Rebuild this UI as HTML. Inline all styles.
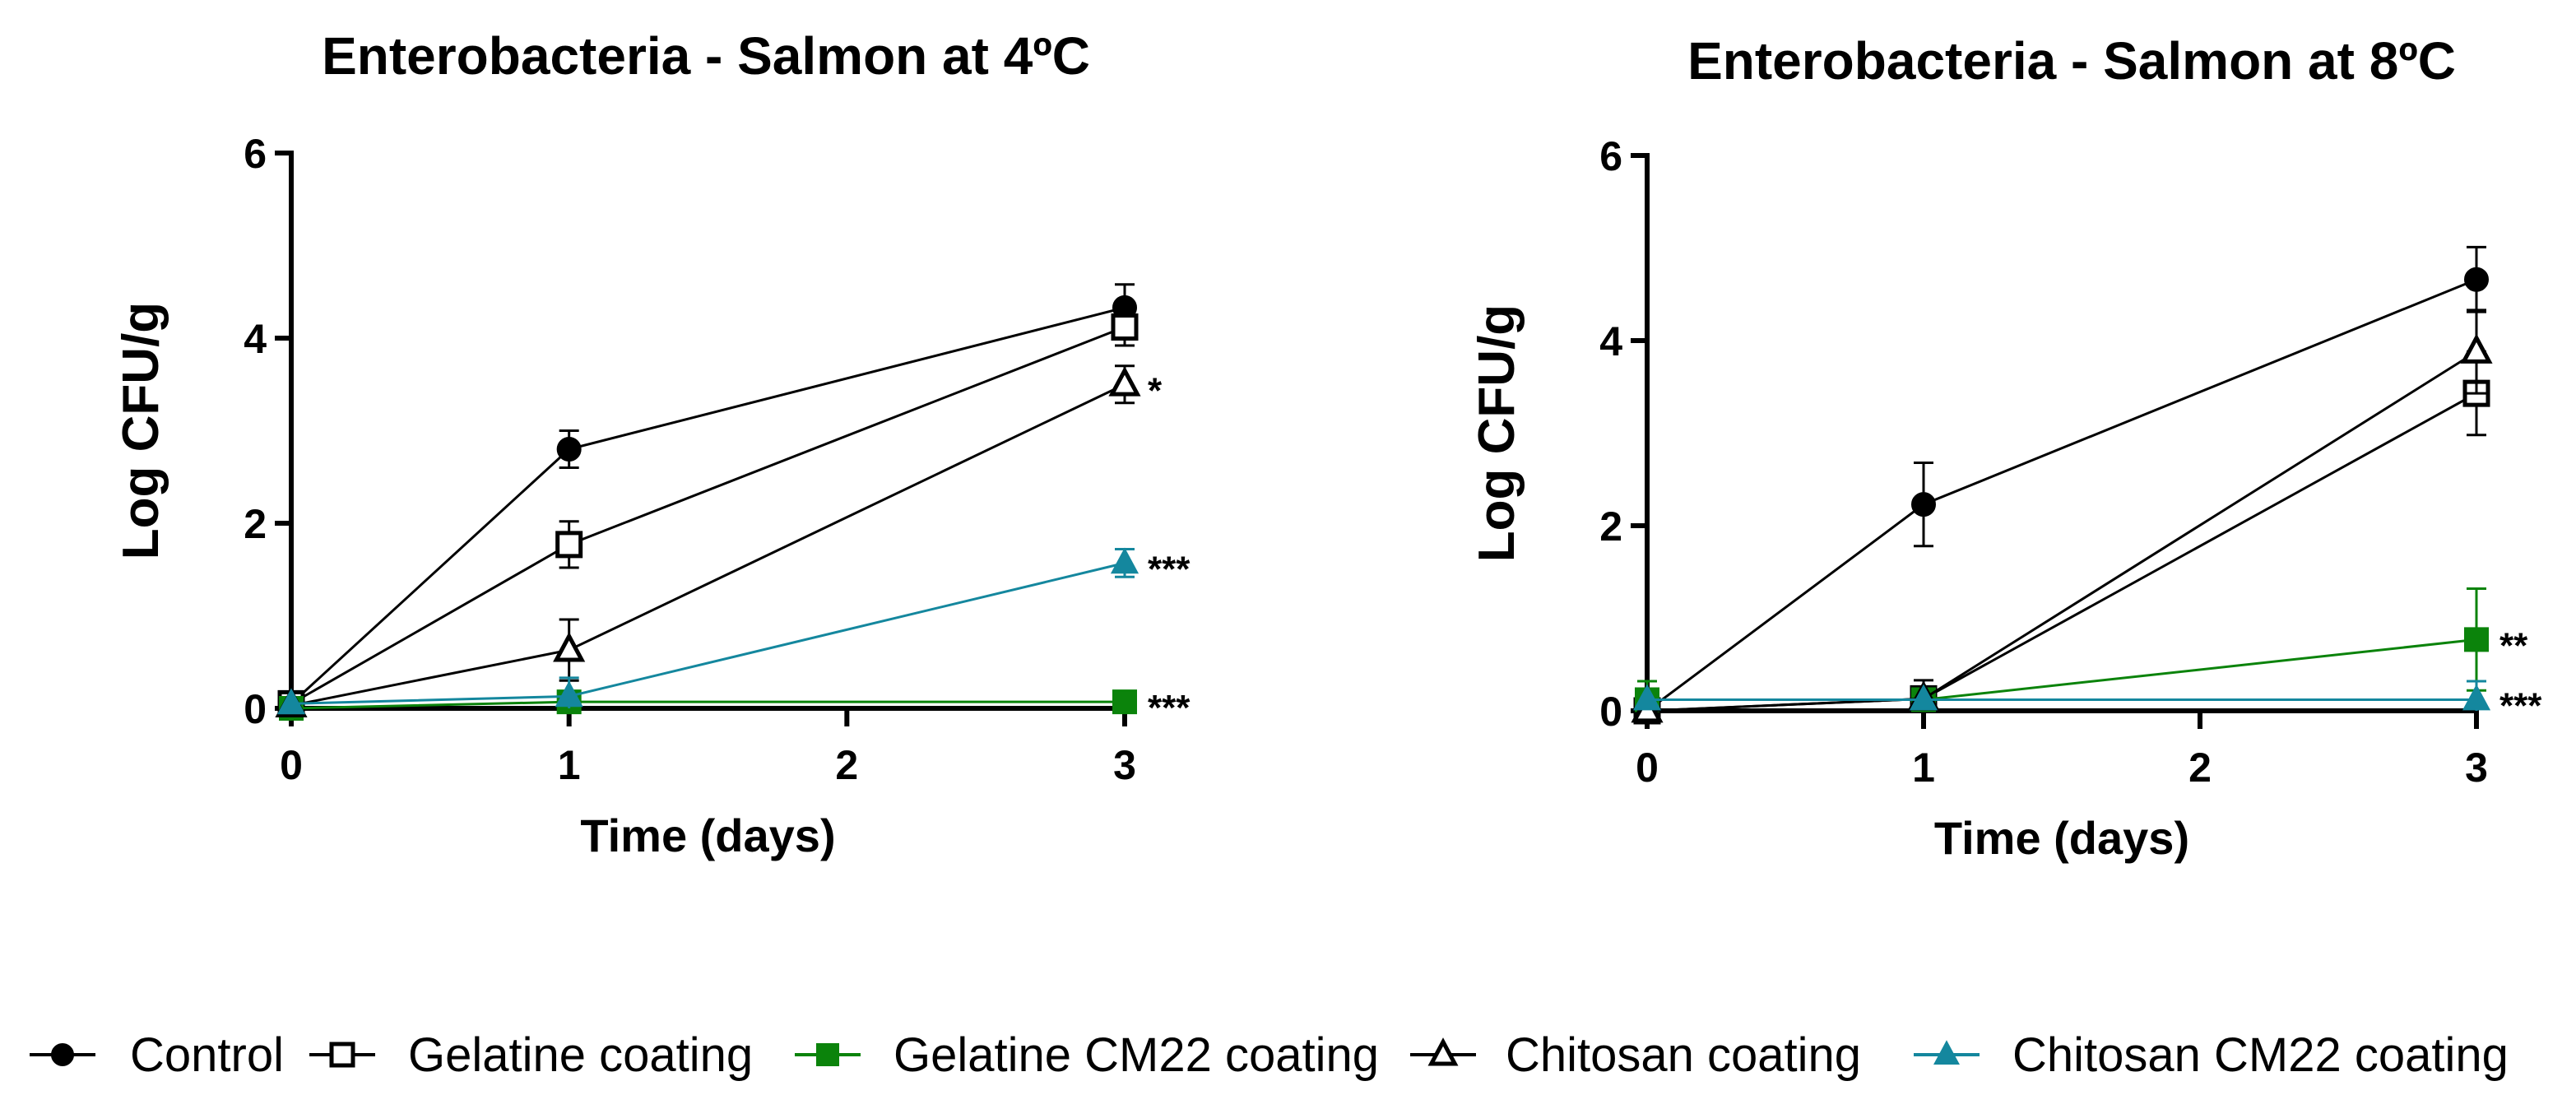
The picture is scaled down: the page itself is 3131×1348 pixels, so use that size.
<!DOCTYPE html>
<html><head><meta charset="utf-8"><style>
html,body{margin:0;padding:0;background:#fff;}
svg{display:block;font-family:"Liberation Sans",Arial,sans-serif;}
</style></head><body>
<svg id="fig" width="3131" height="1348" viewBox="0 0 3131 1348" xmlns="http://www.w3.org/2000/svg">
<rect width="3131" height="1348" fill="#fff"/>
<g id="legend"></g>
</svg>
<script>
const days = [0, 1, 3];
const xTicks = [0, 1, 2, 3];
const yTicks = [0, 2, 4, 6];
const seriesNames = ["Control", "Gelatine coating", "Gelatine CM22 coating", "Chitosan coating", "Chitosan CM22 coating"];
// Panel 1: 4ºC
const p1Control = [0.05, 2.8, 4.33];
const p1ControlErr = [0, 0.2, 0.25];
const p1Gelatine = [0.05, 1.77, 4.12];
const p1GelatineErr = [0, 0.25, 0.2];
const p1GelCM22 = [0.0, 0.07, 0.07];
const p1GelCM22Err = [0, 0, 0];
const p1Chitosan = [0.03, 0.63, 3.5];
const p1ChitosanErr = [0, 0.33, 0.2];
const p1ChiCM22 = [0.05, 0.13, 1.57];
const p1ChiCM22Err = [0, 0.2, 0.15];
const p1Stars = [["*", 3, 3.5], ["***", 3, 1.57], ["***", 3, 0.07]];
// Panel 2: 8ºC
const p2Control = [0.0, 2.23, 4.66];
const p2ControlErr = [0, 0.45, 0.35];
const p2Gelatine = [0.0, 0.13, 3.43];
const p2GelatineErr = [0, 0.2, 0.45];
const p2GelCM22 = [0.12, 0.12, 0.77];
const p2GelCM22Err = [0.2, 0, 0.55];
const p2Chitosan = [0.0, 0.13, 3.88];
const p2ChitosanErr = [0, 0, 0.45];
const p2ChiCM22 = [0.12, 0.12, 0.12];
const p2ChiCM22Err = [0, 0, 0.2];
const p2Stars = [["**", 3, 0.77], ["***", 3, 0.12]];

const NS = "http://www.w3.org/2000/svg";
const svg = document.getElementById("fig");
const GREEN = "#0b830b", TEAL = "#14879e";
const styles = [
  {c:"#000", m:"circle", fill:true},
  {c:"#000", m:"square", fill:false},
  {c:GREEN, m:"square", fill:true},
  {c:"#000", m:"tri", fill:false},
  {c:TEAL, m:"tri", fill:true}
];
function el(tag, attrs, parent){
  const e = document.createElementNS(NS, tag);
  for (const k in attrs) e.setAttribute(k, attrs[k]);
  (parent||svg).appendChild(e);
  return e;
}
function marker(g, st, x, y, s){
  let e;
  if (st.m === "circle") e = el("circle", {cx:x, cy:y, r:s}, g);
  else if (st.m === "square") e = el("rect", {x:x-s, y:y-s, width:2*s, height:2*s}, g);
  else e = el("polygon", {points:`${x},${y-s*1.2} ${x-s*1.1},${y+s*0.85} ${x+s*1.1},${y+s*0.85}`}, g);
  e.setAttribute("fill", st.fill ? st.c : "#fff");
  e.setAttribute("stroke", st.c);
  e.setAttribute("stroke-width", st.fill ? 2 : 5);
  return e;
}
function panel(cfg){
  const {x0, x3, y0, y6, title, tx, ty, ytx, series, errs, stars, id} = cfg;
  const sx = v => x0 + (x3 - x0) * v / 3;
  const sy = v => y0 - (y0 - y6) * v / 6;
  const g = el("g", {});
  
  
  const t = el("text", {x:tx, y:ty, "text-anchor":"middle", "font-size":64, "font-weight":"bold"}, g);
  t.textContent = title;
  
  
  const ax = el("g", {stroke:"#000", "stroke-width":6, fill:"none"}, g);
  
  
  el("line", {x1:x0, y1:y6-3, x2:x0, y2:y0+14}, ax);
  el("line", {x1:x0-3, y1:y0, x2:x3+3, y2:y0}, ax);
  xTicks.forEach(v => {
    el("line", {x1:sx(v), y1:y0, x2:sx(v), y2:y0+22}, ax);
    const l = el("text", {x:sx(v), y:y0+86, "text-anchor":"middle", "font-size":50, "font-weight":"bold"}, g);
    l.textContent = v;
    
    
  });
  yTicks.forEach(v => {
    el("line", {x1:x0-20, y1:sy(v), x2:x0, y2:sy(v)}, ax);
    const l = el("text", {x:x0-30, y:sy(v)+18, "text-anchor":"end", "font-size":50, "font-weight":"bold"}, g);
    l.textContent = v;
    
    
  });
  const xt = el("text", {x:(x0+x3)/2, y:y0+174, "text-anchor":"middle", "font-size":56, "font-weight":"bold"}, g);
  xt.textContent = "Time (days)";
  
  
  const yc = (y0+y6)/2;
  const yt = el("text", {x:ytx, y:yc, "text-anchor":"middle", "font-size":62, "font-weight":"bold", transform:`rotate(-90 ${ytx} ${yc})`}, g);
  yt.textContent = "Log CFU/g";
  
  
  series.forEach((vals, i) => {
    const st = styles[i];
    const sg = el("g", {}, g);
    
    
    el("polyline", {points: vals.map((v,j)=>`${sx(days[j])},${sy(v)}`).join(" "), fill:"none", stroke:st.c, "stroke-width":3}, sg);
    vals.forEach((v,j) => {
      const e = errs[i][j];
      if (e > 0) {
        const x = sx(days[j]);
        el("line", {x1:x, y1:sy(v+e), x2:x, y2:sy(Math.max(v-e,0)), stroke:st.c, "stroke-width":3}, sg);
        el("line", {x1:x-12, y1:sy(v+e), x2:x+12, y2:sy(v+e), stroke:st.c, "stroke-width":3}, sg);
        if (v-e > 0) el("line", {x1:x-12, y1:sy(v-e), x2:x+12, y2:sy(v-e), stroke:st.c, "stroke-width":3}, sg);
      }
    });
    vals.forEach((v,j) => {
      const m = marker(sg, st, sx(days[j]), sy(v), 14);
      
      
    });
  });
  stars.forEach(s => {
    const st = el("text", {x:sx(s[1])+28, y:sy(s[2])+22, "font-size":44, "font-weight":"bold"}, g);
    st.textContent = s[0];
    
    
  });
}
panel({id:"chart-4c", x0:354, x3:1367, y0:861, y6:186, title:"Enterobacteria - Salmon at 4ºC", tx:858, ty:90, ytx:192,
  series:[p1Control,p1Gelatine,p1GelCM22,p1Chitosan,p1ChiCM22],
  errs:[p1ControlErr,p1GelatineErr,p1GelCM22Err,p1ChitosanErr,p1ChiCM22Err], stars:p1Stars});
panel({id:"chart-8c", x0:2002, x3:3010, y0:864, y6:189, title:"Enterobacteria - Salmon at 8ºC", tx:2518, ty:96, ytx:1840,
  series:[p2Control,p2Gelatine,p2GelCM22,p2Chitosan,p2ChiCM22],
  errs:[p2ControlErr,p2GelatineErr,p2GelCM22Err,p2ChitosanErr,p2ChiCM22Err], stars:p2Stars});
const leg = document.getElementById("legend");
const legMarkX = [76, 416, 1006, 1754, 2366];
const legTextX = [158, 496, 1086, 1830, 2446];
seriesNames.forEach((n,i) => {
  const st = styles[i];
  const g = el("g", {}, leg);
  
  
  el("line", {x1:legMarkX[i]-40, y1:1282, x2:legMarkX[i]+40, y2:1282, stroke:st.c, "stroke-width":4}, g);
  marker(g, st, legMarkX[i], 1282, 13);
  const t = el("text", {x:legTextX[i], y:1302, "font-size":58}, g);
  t.textContent = n;
});
</script>
</body></html>
